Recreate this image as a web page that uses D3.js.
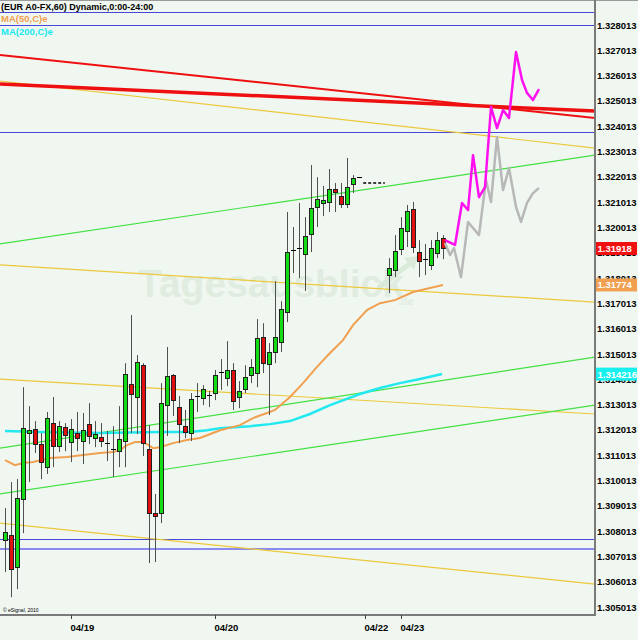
<!DOCTYPE html>
<html>
<head>
<meta charset="utf-8">
<script src="https://cdn.jsdelivr.net/npm/d3@7"></script>
<style>
  body { margin: 0; background: #f0f7f0; }
  svg { display: block; font-family: "Liberation Sans", Arial, sans-serif; }
</style>
</head>
<body>
<div class="graphContainer"></div>
<script>
var width = 638;
var height = 640;
var plotW = 595;
var plotH = 615;

// hourly bars, slot index = position on the x axis, null = no bar
var barOpen = [
  1.30766, 1.30785, 1.30659, 1.30928, 1.31189, 1.31204, 1.31145, 1.31054, 1.31228, 1.31137,
  1.31212, 1.31153, 1.31189, 1.31157, 1.31224, 1.31169, 1.31173, 1.31149, 1.31125, 1.31117,
  1.31157, 1.31382, 1.31331, 1.31457, 1.31125, 1.30872, 1.30872, 1.31299, 1.31418, 1.31291,
  1.31216, 1.31189, 1.31335, 1.31327, 1.31339, 1.31347, 1.3143, 1.31406, 1.31438, 1.31331,
  1.31363, 1.31418, 1.31426, 1.31568, 1.31461, 1.31509, 1.31548, 1.31667, 1.31912, 1.3192,
  1.31896, 1.31975, 1.32082, 1.32098, 1.32102, 1.32153, 1.32125, 1.32094, 1.32173, 1.322,
  null, null, null, null,
  1.31813, 1.31833, 1.31916, 1.31987, 1.32074, 1.31904, 1.31876, 1.31853, 1.319, 1.31959
];
var barHigh = [
  1.30892, 1.30995, 1.31007, 1.3137, 1.31295, 1.31236, 1.31189, 1.31272, 1.31331, 1.31236,
  1.31228, 1.31244, 1.31272, 1.31268, 1.31307, 1.31236, 1.31228, 1.31197, 1.31216, 1.31295,
  1.31465, 1.31655, 1.31497, 1.31465, 1.3122, 1.30948, 1.31386, 1.31529, 1.31422, 1.31335,
  1.3128, 1.31347, 1.31386, 1.31378, 1.31355, 1.31438, 1.31481, 1.31552, 1.31465, 1.31394,
  1.31457, 1.31481, 1.31639, 1.31623, 1.31544, 1.31789, 1.3171, 1.32062, 1.32003, 1.32098,
  1.32042, 1.32248, 1.322, 1.32165, 1.32232, 1.32177, 1.32177, 1.32276, 1.32208, 1.322,
  null, null, null, null,
  1.3188, 1.31971, 1.32042, 1.3209, 1.32102, 1.31951, 1.31936, 1.31951, 1.31983, 1.31971
];
var barLow = [
  1.30639, 1.3054, 1.30572, 1.30793, 1.30995, 1.3111, 1.31007, 1.31027, 1.31054, 1.31114,
  1.31117, 1.31074, 1.31117, 1.31066, 1.31145, 1.31133, 1.31133, 1.31078, 1.31015, 1.31054,
  1.31054, 1.31189, 1.31185, 1.31098, 1.30675, 1.30679, 1.30833, 1.31177, 1.31256, 1.31149,
  1.31169, 1.31157, 1.31272, 1.31299, 1.31291, 1.31319, 1.31359, 1.31374, 1.3128, 1.31287,
  1.31347, 1.31386, 1.3137, 1.31426, 1.3126, 1.31465, 1.31509, 1.31627, 1.31821, 1.31801,
  1.3175, 1.31904, 1.32003, 1.32046, 1.32062, 1.32062, 1.32078, 1.32078, 1.32137, 1.322,
  null, null, null, null,
  1.31742, 1.31805, 1.31892, 1.31924, 1.319, 1.31805, 1.31813, 1.31833, 1.3188, 1.31876
];
var barClose = [
  1.30797, 1.30651, 1.30932, 1.31208, 1.312, 1.31145, 1.31074, 1.31248, 1.31137, 1.31216,
  1.31181, 1.31204, 1.31169, 1.312, 1.31177, 1.31185, 1.31157, 1.31149, 1.31125, 1.31165,
  1.31422, 1.31343, 1.31469, 1.31149, 1.30872, 1.30861, 1.31307, 1.31414, 1.31319, 1.31224,
  1.31193, 1.31323, 1.31335, 1.31363, 1.31339, 1.31418, 1.3143, 1.31438, 1.31315, 1.31355,
  1.3141, 1.3145, 1.31564, 1.31465, 1.31509, 1.31568, 1.31679, 1.31904, 1.31912, 1.3192,
  1.31967, 1.32078, 1.32114, 1.3211, 1.32153, 1.32141, 1.32094, 1.32161, 1.32197, 1.322,
  null, null, null, null,
  1.31841, 1.31908, 1.31999, 1.32066, 1.31924, 1.31868, 1.31876, 1.3192, 1.31951, 1.31918
];

// moving averages [slot, price]
var ma50 = [
  [0, 1.31082], [1.67, 1.31062], [3, 1.3107], [4.67, 1.31074], [7.5, 1.3109], [10.33, 1.31094],
  [13, 1.31102], [15.83, 1.3111], [18, 1.31114], [19.17, 1.31121], [20.33, 1.31141], [21.67, 1.31153],
  [22.83, 1.31153], [23.67, 1.31145], [24.67, 1.31129], [25.83, 1.31133], [28, 1.31149], [30.33, 1.31161],
  [32.5, 1.31169], [34.67, 1.31189], [35.83, 1.312], [39.17, 1.3122], [41.33, 1.31248], [43.67, 1.31268],
  [45, 1.3128], [47.5, 1.31331], [49.67, 1.31386], [52, 1.3145], [54.17, 1.31505], [56.33, 1.31556],
  [58, 1.31615], [60.33, 1.31675], [62.5, 1.31702], [65, 1.31714], [68, 1.31746], [70.83, 1.31762],
  [73, 1.31774]
];
var ma200 = [
  [0, 1.31197], [5.83, 1.31193], [15.83, 1.31189], [25.83, 1.31193], [30.83, 1.31193], [33.67, 1.312],
  [35.83, 1.31208], [40.83, 1.31216], [44.17, 1.31224], [47.5, 1.31236], [50.83, 1.31264],
  [54.17, 1.31299], [59.17, 1.31343], [62.5, 1.31367], [65.83, 1.31386], [69.17, 1.31402],
  [72.83, 1.31422]
];

// projections [slot, price]
var projMain = [
  [73.33, 1.31951], [75, 1.31932], [76.17, 1.32098], [77.17, 1.3207], [78, 1.32287], [79, 1.32121],
  [80, 1.32161], [81, 1.32477], [82, 1.32394], [83, 1.32465], [84, 1.32434], [85.17, 1.32695],
  [86.17, 1.32584], [87, 1.32533], [88, 1.32505], [89, 1.32548]
];
var projAlt = [
  [73.33, 1.3194], [74.17, 1.31892], [74.83, 1.3192], [76, 1.31805], [77.17, 1.32023], [79, 1.31971],
  [80.17, 1.32189], [81, 1.32102], [82, 1.32359], [83, 1.32149], [84, 1.32236], [85.17, 1.32082],
  [86, 1.32023], [87, 1.32098], [88, 1.32137], [89, 1.32157]
];

// drawn trend lines [slot0, price0, slot1, price1]
var redLines = [[-0.83, 1.32683, 98.33, 1.32434]];
var redThickLines = [[-0.83, 1.32568, 98.33, 1.32461]];
var yellowLines = [
  [-0.83, 1.3258, 98.33, 1.32315],
  [-0.83, 1.31853, 98.33, 1.31706],
  [-0.83, 1.31402, 98.33, 1.31264],
  [-0.83, 1.30833, 98.33, 1.30592]
];
var greenLines = [
  [-0.83, 1.31936, 98.33, 1.32287],
  [-0.83, 1.31129, 98.33, 1.31489],
  [-0.83, 1.30948, 98.33, 1.31299]
];
var blueLevels = [1.32853, 1.32801, 1.32378, 1.3077];
var blueLightLevels = [1.3073];
var gapMark = [[59.7, 1.32177], [63.3, 1.32177]];

// axes
var priceTicks = d3.range(0, 24).map(function (k) { return 1.328013 - k * 0.001; });
var dateTicks = [11, 35, 60, 66];
var dateLabels = ["04/19", "04/20", "04/22", "04/23"];
var lastClose = 1.31918;
var lastMa50 = 1.31774;
var lastMa200 = 1.314216;

var svgContainer = d3
  .select(".graphContainer")
  .append("svg")
  .attr("width", width)
  .attr("height", height);

svgContainer.append("rect").attr("width", width).attr("height", height).attr("fill", "#f0f7f0");

var xScale = d3.scaleLinear().domain([-0.8333, 98.333]).range([0, plotW]);
var yScale = d3.scaleLinear().domain([1.328013, 1.305013]).range([25, 607]);

svgContainer.append("clipPath").attr("id", "plotClip")
  .append("rect").attr("width", plotW).attr("height", plotH);

var plot = svgContainer.append("g").attr("clip-path", "url(#plotClip)");

// watermark
var wm = plot.append("g").attr("opacity", 0.55);
wm.append("text")
  .attr("x", 138).attr("y", 297)
  .attr("font-size", 39).attr("font-weight", "bold")
  .attr("fill", "#d3e4d3")
  .text("Tagesausblick");
wm.append("text")
  .attr("x", 398).attr("y", 305)
  .attr("font-size", 11).attr("font-weight", "bold")
  .attr("fill", "#d3e4d3")
  .text(".de");
wm.append("path")
  .attr("d", "M378,288 L412,262")
  .attr("stroke", "#c8e0c8").attr("stroke-width", 5).attr("fill", "none");
wm.append("path")
  .attr("d", "M404,258 L418,256 L414,270 Z")
  .attr("fill", "#c8e0c8");

function seg(d) {
  return "M" + xScale(d[0]) + "," + yScale(d[1]) + "L" + xScale(d[2]) + "," + yScale(d[3]);
}

// horizontal levels
plot.selectAll(".blue").data(blueLevels).enter().append("line")
  .attr("x1", 0).attr("x2", plotW)
  .attr("y1", function (d) { return Math.round(yScale(d)) + 0.5; })
  .attr("y2", function (d) { return Math.round(yScale(d)) + 0.5; })
  .attr("stroke", "#4646d8").attr("stroke-width", 1);
plot.selectAll(".bluelight").data(blueLightLevels).enter().append("line")
  .attr("x1", 0).attr("x2", plotW)
  .attr("y1", function (d) { return Math.round(yScale(d)); })
  .attr("y2", function (d) { return Math.round(yScale(d)); })
  .attr("stroke", "#8a8af0").attr("stroke-width", 2);

// trend lines
plot.selectAll(".yl").data(yellowLines).enter().append("path")
  .attr("d", seg).attr("stroke", "#ecc83c").attr("stroke-width", 1.2).attr("fill", "none");
plot.selectAll(".gl").data(greenLines).enter().append("path")
  .attr("d", seg).attr("stroke", "#44e044").attr("stroke-width", 1.2).attr("fill", "none");
plot.selectAll(".rl").data(redLines).enter().append("path")
  .attr("d", seg).attr("stroke", "#ee1010").attr("stroke-width", 2).attr("fill", "none");
plot.selectAll(".rlt").data(redThickLines).enter().append("path")
  .attr("d", seg).attr("stroke", "#ee1010").attr("stroke-width", 3.5).attr("fill", "none");

// moving averages
var line = d3.line()
  .x(function (d) { return xScale(d[0]); })
  .y(function (d) { return yScale(d[1]); });

plot.append("path").datum(ma200).attr("d", line)
  .attr("stroke", "#22e8f0").attr("stroke-width", 2.5).attr("fill", "none");
plot.append("path").datum(ma50).attr("d", line)
  .attr("stroke", "#f0a050").attr("stroke-width", 2).attr("fill", "none");

// candles
var bars = barOpen.map(function (o, i) {
  return { i: i, o: o, h: barHigh[i], l: barLow[i], c: barClose[i] };
}).filter(function (d) { return d.o !== null; });

var candle = plot.selectAll(".bar").data(bars).enter().append("g");

candle.append("line")
  .attr("x1", function (d) { return Math.round(xScale(d.i)) + 0.5; })
  .attr("x2", function (d) { return Math.round(xScale(d.i)) + 0.5; })
  .attr("y1", function (d) { return yScale(d.h); })
  .attr("y2", function (d) { return yScale(d.l); })
  .attr("stroke", function (d) { return d.h === d.l ? "none" : "#505050"; })
  .attr("stroke-width", 1);

candle.filter(function (d) { return d.o !== d.c; }).append("rect")
  .attr("x", function (d) { return Math.round(xScale(d.i)) - 2 + 0.5; })
  .attr("y", function (d) { return Math.round(yScale(Math.max(d.o, d.c))) + 0.5; })
  .attr("width", 4)
  .attr("height", function (d) { return Math.max(1, Math.round(Math.abs(yScale(d.o) - yScale(d.c)))); })
  .attr("fill", function (d) { return d.c > d.o ? "#14dc14" : "#e01010"; })
  .attr("stroke", "#202020").attr("stroke-width", 1);

candle.filter(function (d) { return d.o === d.c; }).append("line")
  .attr("x1", function (d) { return Math.round(xScale(d.i)) - 2; })
  .attr("x2", function (d) { return Math.round(xScale(d.i)) + 3; })
  .attr("y1", function (d) { return Math.round(yScale(d.o)) + 0.5; })
  .attr("y2", function (d) { return Math.round(yScale(d.o)) + 0.5; })
  .attr("stroke", "#000").attr("stroke-width", 1);

// gap marker
plot.append("path").datum(gapMark).attr("d", line)
  .attr("stroke", "#000").attr("stroke-width", 1.5).attr("stroke-dasharray", "3,2").attr("fill", "none");

// projections
plot.append("path").datum(projAlt).attr("d", line)
  .attr("stroke", "#b8b8b8").attr("stroke-width", 2.5).attr("fill", "none")
  .attr("stroke-linejoin", "round");
plot.append("path").datum(projMain).attr("d", line)
  .attr("stroke", "#ff10f0").attr("stroke-width", 2.5).attr("fill", "none")
  .attr("stroke-linejoin", "round");

// frame
svgContainer.append("line").attr("x1", 0).attr("x2", width).attr("y1", 0.5).attr("y2", 0.5)
  .attr("stroke", "#9a9a9a");
svgContainer.append("line").attr("x1", plotW).attr("x2", plotW).attr("y1", 0).attr("y2", plotH + 1)
  .attr("stroke", "#7a7a7a").attr("stroke-width", 2);
svgContainer.append("line").attr("x1", 0).attr("x2", plotW + 1).attr("y1", plotH).attr("y2", plotH)
  .attr("stroke", "#7a7a7a").attr("stroke-width", 2);

// price axis
var yAxis = d3.axisRight(yScale)
  .tickValues(priceTicks)
  .tickSize(0)
  .tickPadding(1)
  .tickFormat(d3.format(".6f"));

var yAxisGroup = svgContainer.append("g")
  .attr("transform", "translate(" + (plotW + 1) + ",0)")
  .call(yAxis);
yAxisGroup.select(".domain").remove();
yAxisGroup.selectAll("text")
  .attr("font-size", 9.5).attr("font-weight", "bold").attr("fill", "#000")
  .attr("font-family", "Liberation Sans, Arial, sans-serif");

// value badges (they sit over the scale labels, as in the terminal)
var badges = [
  { v: lastClose, label: "1.31918", bg: "#f01010" },
  { v: lastMa50, label: "1.31774", bg: "#f0a050" },
  { v: lastMa200, label: "1.314216", bg: "#18f0f0" }
];
var badge = svgContainer.selectAll(".badge").data(badges).enter().append("g")
  .attr("transform", function (d) { return "translate(" + (plotW + 1) + "," + yScale(d.v) + ")"; });
badge.append("rect")
  .attr("x", 0).attr("y", -6.5).attr("width", 41).attr("height", 13)
  .attr("fill", function (d) { return d.bg; });
badge.append("text")
  .attr("x", 1.5).attr("y", 3.5)
  .attr("font-size", 9.5).attr("font-weight", "bold").attr("fill", "#fff")
  .text(function (d) { return d.label; });

// date axis
var xAxis = d3.axisBottom(xScale)
  .tickValues(dateTicks)
  .tickSize(4)
  .tickFormat(function (d, i) { return dateLabels[i]; });

var xAxisGroup = svgContainer.append("g")
  .attr("transform", "translate(0," + plotH + ")")
  .call(xAxis);
xAxisGroup.select(".domain").remove();
xAxisGroup.selectAll("line").attr("stroke", "#404040");
xAxisGroup.selectAll("text")
  .attr("text-anchor", "start")
  .attr("dx", -1).attr("y", 9)
  .attr("font-size", 9.5).attr("font-weight", "bold").attr("fill", "#000")
  .attr("font-family", "Liberation Sans, Arial, sans-serif");

// headers
svgContainer.append("text").attr("x", 1).attr("y", 10)
  .attr("font-size", 9).attr("font-weight", "bold").attr("fill", "#000")
  .text("(EUR A0-FX,60) Dynamic,0:00-24:00");
svgContainer.append("text").attr("x", 1).attr("y", 22)
  .attr("font-size", 9.5).attr("font-weight", "bold").attr("fill", "#f0a050")
  .text("MA(50,C)e");
svgContainer.append("text").attr("x", 1).attr("y", 35)
  .attr("font-size", 9.5).attr("font-weight", "bold").attr("fill", "#18e8f0")
  .text("MA(200,C)e");
svgContainer.append("text").attr("x", 3).attr("y", 612)
  .attr("font-size", 5).attr("fill", "#000")
  .text("\u00a9 eSignal, 2010");
</script>
</body>
</html>
